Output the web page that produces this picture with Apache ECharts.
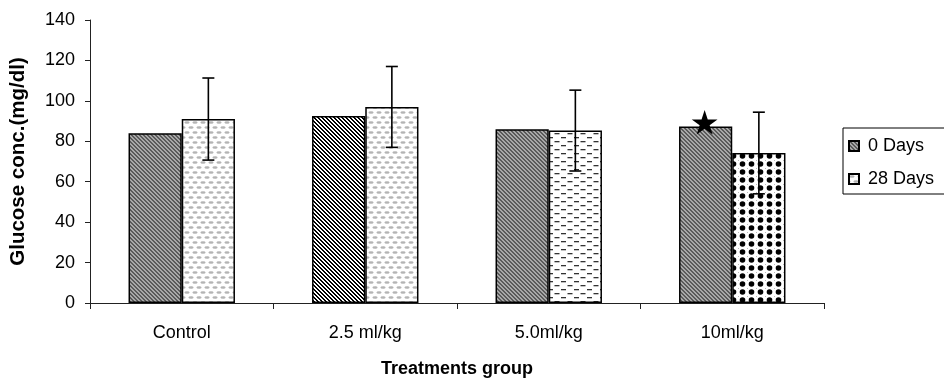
<!DOCTYPE html>
<html>
<head>
<meta charset="utf-8">
<script src="https://cdn.jsdelivr.net/npm/echarts@6/dist/echarts.min.js"></script>
<style>html,body{margin:0;padding:0;background:#fff}#c{width:944px;height:380px}</style>
</head>
<body>
<div id="c"></div>
<script>
var categories = ['Control', '2.5 ml/kg', '5.0ml/kg', '10ml/kg'];
var day0 = [84, 92.5, 86, 87.3];
var day28 = [91, 97, 85.3, 74.2];
var day28Err = [20.3, 20, 20, 20.2];
var starValues = [null, null, null, 89];
var yTicks = [0, 20, 40, 60, 80, 100, 120, 140];

function makePattern(w, h, draw) {
  var c = document.createElement('canvas');
  c.width = w; c.height = h;
  var ctx = c.getContext('2d');
  ctx.fillStyle = '#fff'; ctx.fillRect(0, 0, w, h);
  draw(ctx, w, h);
  return { image: c, repeat: 'repeat' };
}
function diag(n, k, dark, light) {
  return makePattern(n, n, function (ctx) {
    for (var x = 0; x < n; x++) for (var y = 0; y < n; y++) {
      var d = (((x - y) % n) + n) % n;
      ctx.fillStyle = d < k ? dark : light;
      ctx.fillRect(x, y, 1, 1);
    }
  });
}
var patGrayDiag = diag(4, 2, '#5a5a5a', '#a8a8a8');
var patBWDiag = diag(4, 2, '#000000', '#ffffff');
var patLightDots = makePattern(8, 10, function (ctx) {
  ctx.fillStyle = '#b4b4b4';
  ctx.beginPath(); ctx.ellipse(3, 2.5, 2.6, 1.2, 0, 0, Math.PI * 2); ctx.fill();
  ctx.beginPath(); ctx.ellipse(7, 7.5, 2.6, 1.2, 0, 0, Math.PI * 2); ctx.fill();
  ctx.beginPath(); ctx.ellipse(-1, 7.5, 2.6, 1.2, 0, 0, Math.PI * 2); ctx.fill();
  ctx.beginPath(); ctx.ellipse(8 + 3, 2.5, 2.6, 1.2, 0, 0, Math.PI * 2); ctx.fill();
});
var patDashes = makePattern(13, 8, function (ctx) {
  ctx.fillStyle = '#333';
  ctx.fillRect(2, 1, 5, 1.3);
  ctx.fillRect(8.5, 5, 5, 1.3);
  ctx.fillRect(-4.5, 5, 5, 1.3);
});
var patCheckDots = makePattern(9, 8, function (ctx) {
  ctx.fillStyle = '#000';
  ctx.beginPath(); ctx.arc(4.5, 4, 2.8, 0, Math.PI * 2); ctx.fill();
  ctx.fillStyle = '#bbb';
  ctx.fillRect(0, 0, 1, 1);
});

var day0Colors = [patGrayDiag, patBWDiag, patGrayDiag, patGrayDiag];
var day28Colors = [patLightDots, patLightDots, patDashes, patCheckDots];

var GAP = 0.42;

var chart = echarts.init(document.getElementById('c'), null, { renderer: 'canvas' });
var font = 'Liberation Sans, Arial, sans-serif';
chart.setOption({
  animation: false,
  backgroundColor: '#fff',
  textStyle: { fontFamily: font, color: '#000' },
  grid: { left: 90, right: 120, top: 20, bottom: 77, containLabel: false, outerBoundsMode: 'none' },
  legend: {
    orient: 'vertical',
    left: 843, top: 128,
    padding: [8, 30, 5, 5],
    itemGap: 13,
    itemWidth: 10, itemHeight: 10,
    borderColor: '#000', borderWidth: 1,
    icon: 'rect',
    textStyle: { fontFamily: font, fontSize: 18, color: '#000', lineHeight: 20, padding: [0, 0, 0, 4] },
    data: ['0 Days', '28 Days']
  },
  xAxis: {
    type: 'category',
    data: categories,
    name: 'Treatments group',
    nameLocation: 'middle',
    nameGap: 57,
    nameTextStyle: { fontFamily: font, fontSize: 18, fontWeight: 'bold', color: '#000' },
    axisLine: { lineStyle: { color: '#222', width: 1 } },
    axisTick: { show: true, length: 6, alignWithLabel: false, lineStyle: { color: '#222' } },
    axisLabel: { fontFamily: font, fontSize: 18, color: '#000', margin: 21 },
    splitLine: { show: false }
  },
  yAxis: {
    type: 'value',
    min: yTicks[0], max: yTicks[yTicks.length - 1], interval: 20,
    name: 'Glucose conc.(mg/dl)',
    nameLocation: 'middle',
    nameGap: 61,
    nameTextStyle: { fontFamily: font, fontSize: 20.5, fontWeight: 'bold', color: '#000' },
    axisLine: { show: true, lineStyle: { color: '#222', width: 1 } },
    axisTick: { show: true, length: 5, inside: false, lineStyle: { color: '#222' } },
    axisLabel: { fontFamily: font, fontSize: 18, color: '#000', margin: 15 },
    splitLine: { show: false }
  },
  series: [
    {
      name: '0 Days', type: 'bar', barGap: '0%', barCategoryGap: (GAP * 100) + '%',
      itemStyle: { color: patGrayDiag, borderColor: '#000', borderWidth: 1.5 },
      data: day0.map(function (v, i) { return { value: v, itemStyle: { color: day0Colors[i] } }; })
    },
    {
      name: '28 Days', type: 'bar', barGap: '0%', barCategoryGap: (GAP * 100) + '%',
      itemStyle: { color: patLightDots, borderColor: '#000', borderWidth: 1.5 },
      data: day28.map(function (v, i) { return { value: v, itemStyle: { color: day28Colors[i] } }; })
    },
    {
      name: 'err', type: 'custom', z: 5,
      data: day28.map(function (v, i) { return [i, v, day28Err[i]]; }),
      renderItem: function (params, api) {
        var c = api.coord([api.value(0), api.value(1)]);
        var bw = api.size([1, 0])[0] * (1 - GAP) / 2;
        var x = c[0] + bw / 2;
        var hi = api.coord([api.value(0), api.value(1) + api.value(2)])[1];
        var lo = api.coord([api.value(0), api.value(1) - api.value(2)])[1];
        var cap = 6;
        var st = { stroke: '#000', lineWidth: 1.6 };
        return { type: 'group', children: [
          { type: 'line', shape: { x1: x, y1: hi, x2: x, y2: lo }, style: st },
          { type: 'line', shape: { x1: x - cap, y1: hi, x2: x + cap, y2: hi }, style: st },
          { type: 'line', shape: { x1: x - cap, y1: lo, x2: x + cap, y2: lo }, style: st }
        ] };
      }
    },
    {
      name: 'star', type: 'custom', z: 6,
      data: starValues.map(function (v, i) { return v == null ? null : [i, v]; }).filter(function (d) { return d; }),
      renderItem: function (params, api) {
        var c = api.coord([api.value(0), api.value(1)]);
        var bw = api.size([1, 0])[0] * (1 - GAP) / 2;
        var s = 26;
        return {
          type: 'path',
          shape: { pathData: 'M50,0 L61.8,35.5 L99,35.5 L69,57.5 L80.5,93 L50,71 L19.5,93 L31,57.5 L1,35.5 L38.2,35.5 Z',
                   x: c[0] - bw / 2 - s / 2 - 1, y: c[1] - s / 2, width: s, height: s * 0.94 },
          style: { fill: '#000' }
        };
      }
    }
  ]
});
</script>
</body>
</html>
